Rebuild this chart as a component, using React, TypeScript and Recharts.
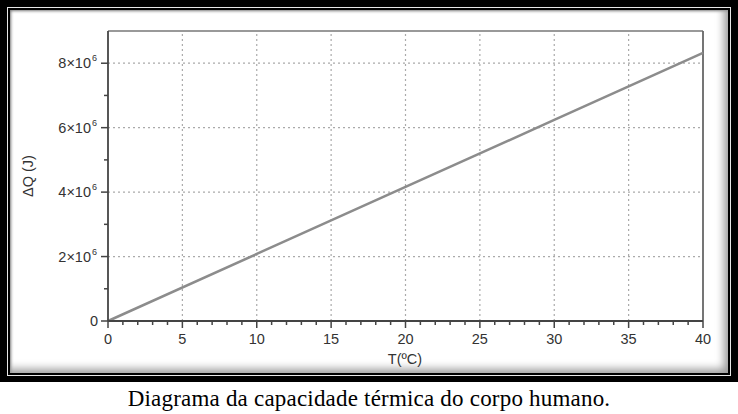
import React from 'react';
import { LineChart, Line, XAxis, YAxis, ReferenceLine } from 'recharts';

// Temperature (°C) and heat (J)
const temps = [0, 10, 20, 30, 40];
const heat = [0, 2.08e6, 4.16e6, 6.24e6, 8.32e6];

const xTicks = [0, 1, 2, 3, 4, 5, 6, 7, 8, 9, 10, 11, 12, 13, 14, 15, 16, 17, 18, 19, 20,
  21, 22, 23, 24, 25, 26, 27, 28, 29, 30, 31, 32, 33, 34, 35, 36, 37, 38, 39, 40];
const xLabels = [0, 5, 10, 15, 20, 25, 30, 35, 40];
const yTicks = [0, 1e6, 2e6, 3e6, 4e6, 5e6, 6e6, 7e6, 8e6];
const yLabels = [0, 2e6, 4e6, 6e6, 8e6];
const xGrid = [5, 10, 15, 20, 25, 30, 35];
const yGrid = [2e6, 4e6, 6e6, 8e6];

const data = temps.map((t, i) => ({ t, q: heat[i] }));

const AXIS = '#444';
const TEXT = '#333';
const FONT = '"Liberation Sans", Arial, sans-serif';

const XTick = ({ x, y, payload }: any) => {
  const major = xLabels.includes(payload.value);
  return (
    <g>
      <line x1={x} x2={x} y1={y} y2={y + (major ? 7 : 4)} stroke={AXIS} strokeWidth={1.5} />
      {major && (
        <text x={x} y={y + 23} textAnchor="middle" fontSize={14.5} fill={TEXT} fontFamily={FONT}>
          {payload.value}
        </text>
      )}
    </g>
  );
};

const YTick = ({ x, y, payload }: any) => {
  const v = payload.value;
  const major = yLabels.includes(v);
  return (
    <g>
      <line x1={x - (major ? 7 : 4)} x2={x} y1={y} y2={y} stroke={AXIS} strokeWidth={1.5} />
      {major &&
        (v === 0 ? (
          <text x={x - 10} y={y + 5} textAnchor="end" fontSize={14.5} fill={TEXT} fontFamily={FONT}>0</text>
        ) : (
          <text x={x - 17} y={y + 5} textAnchor="end" fontSize={14.5} fill={TEXT} fontFamily={FONT}>
            {`${v / 1e6}×10`}
          </text>
        ))}
      {major && v !== 0 && (
        <text x={x - 16} y={y - 2} textAnchor="start" fontSize={9} fill={TEXT} fontFamily={FONT}>6</text>
      )}
    </g>
  );
};

export default function App() {
  return (
    <div style={{ position: 'absolute', left: 0, top: 0, width: 738, height: 414, background: '#fff' }}>
      {/* picture frame */}
      <div style={{ position: 'absolute', left: 0, top: 0, width: 738, height: 382, background: '#000' }}>
        <div
          style={{
            position: 'absolute', left: 7, top: 7, right: 7, bottom: 6,
            border: '1px solid #e8e8e8', background: '#000',
          }}
        >
          <div
            style={{
              position: 'absolute', left: 2, top: 2, right: 2, bottom: 2,
              background: '#fff',
              boxShadow: 'inset -9px -9px 8px -5px #9a9a9a, inset 2px 2px 3px -1px #777',
            }}
          />
        </div>
      </div>
      <div style={{ position: 'absolute', left: 0, top: 0 }}>
        <LineChart width={738} height={414} data={data} margin={{ top: 31, right: 35, bottom: 63, left: 48 }}>
          {xGrid.map((g) => (
            <ReferenceLine key={`x${g}`} x={g} stroke="#aaa" strokeDasharray="2 3" strokeWidth={1.2} />
          ))}
          {yGrid.map((g) => (
            <ReferenceLine key={`y${g}`} y={g} stroke="#aaa" strokeDasharray="2 3" strokeWidth={1.2} />
          ))}
          <ReferenceLine y={9e6} stroke="#777" strokeWidth={1.5} />
          <ReferenceLine x={40} stroke="#666" strokeWidth={1.8} />
          <XAxis
            type="number"
            dataKey="t"
            domain={[0, 40]}
            ticks={xTicks}
            interval={0}
            height={30}
            tickSize={0}
            tickMargin={0}
            tickLine={false}
            axisLine={{ stroke: AXIS, strokeWidth: 1.8 }}
            tick={<XTick />}
          />
          <YAxis
            type="number"
            domain={[0, 9e6]}
            ticks={yTicks}
            interval={0}
            width={60}
            tickSize={0}
            tickMargin={0}
            tickLine={false}
            axisLine={{ stroke: AXIS, strokeWidth: 1.8 }}
            tick={<YTick />}
          />
          <Line
            type="linear"
            dataKey="q"
            stroke="#8c8c8c"
            strokeWidth={2.5}
            dot={false}
            isAnimationActive={false}
          />
          <text
            x={33}
            y={176}
            transform="rotate(-90 33 176)"
            textAnchor="middle"
            fontSize={14.5}
            fill={TEXT}
            fontFamily={FONT}
          >
            ΔQ (J)
          </text>
          <text x={405} y={364} textAnchor="middle" fontSize={14.5} fill={TEXT} fontFamily={FONT}>
            T(ºC)
          </text>
        </LineChart>
      </div>
      <div
        style={{
          position: 'absolute', left: 0, top: 386, width: 738, textAlign: 'center',
          fontFamily: '"Liberation Serif", "Times New Roman", serif', fontSize: 23, color: '#000',
          letterSpacing: 0.2,
        }}
      >
        Diagrama da capacidade térmica do corpo humano.
      </div>
    </div>
  );
}
